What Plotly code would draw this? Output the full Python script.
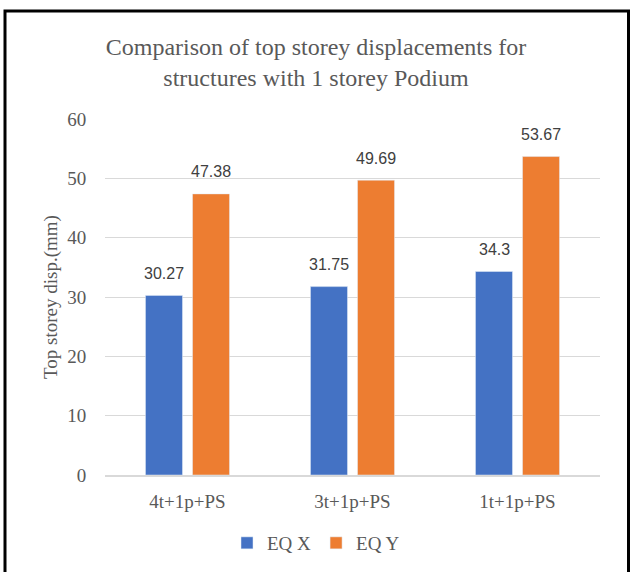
import plotly.graph_objects as go

categories = ["4t+1p+PS", "3t+1p+PS", "1t+1p+PS"]
eq_x = [30.27, 31.75, 34.3]
eq_y = [47.38, 49.69, 53.67]
series_names = ["EQ X", "EQ Y"]
tick_vals = [0, 10, 20, 30, 40, 50, 60]

BLUE = "#4472C4"
ORANGE = "#ED7D31"
TXT = "#595959"
SERIF = "Liberation Serif, Times New Roman, serif"

W, H = 632, 572
ML, MR, MT, MB = 105, 32, 119, 97
PW, PH = W - ML - MR, H - MT - MB

fig = go.Figure()
fig.add_bar(x=categories, y=eq_x, name=series_names[0], marker_color=BLUE)
fig.add_bar(x=categories, y=eq_y, name=series_names[1], marker_color=ORANGE)

# data labels
for vals, xs in ((eq_x, -23.5), (eq_y, 23.5)):
    for c, v in zip(categories, vals):
        fig.add_annotation(x=c, y=v, text=f"{v:g}", showarrow=False, xshift=xs, yshift=22,
                           yanchor="middle", font=dict(family="Liberation Sans, Arial", size=16, color="#404040"))

def px2x(px):
    return (px - ML) / PW

def px2y(py):
    return (H - MB - py) / PH

fig.add_shape(type="rect", xref="paper", yref="paper",
              x0=px2x(5), x1=px2x(628.5), y0=px2y(580), y1=px2y(11),
              line=dict(color="black", width=3), fillcolor="rgba(0,0,0,0)", layer="above")

fig.update_layout(
    width=W, height=H,
    margin=dict(l=ML, r=MR, t=MT, b=MB),
    paper_bgcolor="white", plot_bgcolor="white",
    barmode="group", bargap=0.43, bargroupgap=0.213,
    title=dict(text="Comparison of top storey displacements for<br>structures with 1 storey Podium",
               x=0.5, xanchor="center", xref="container", y=1 - 55 / H, yanchor="middle", yref="container",
               font=dict(family=SERIF, size=24, color=TXT)),
    xaxis=dict(showgrid=False, showline=True, linecolor="#D9D9D9", linewidth=1.5,
               tickfont=dict(family=SERIF, size=19, color=TXT), ticks="outside", ticklen=8, tickcolor="rgba(0,0,0,0)"),
    yaxis=dict(range=[0, 60], tickvals=tick_vals, showgrid=True, gridcolor="#D9D9D9", gridwidth=1,
               zeroline=False, showline=False,
               tickfont=dict(family=SERIF, size=19, color=TXT), ticks="outside", ticklen=14,
               tickcolor="rgba(0,0,0,0)",
               title=dict(text="Top storey disp.(mm)", font=dict(family=SERIF, size=19, color=TXT), standoff=4)),
    legend=dict(orientation="h", x=0.5, xref="container", xanchor="center", y=1 - 543 / H, yref="container",
                yanchor="middle", font=dict(family=SERIF, size=19, color=TXT), itemwidth=30,
                traceorder="normal"),
    showlegend=True,
)

fig.write_html("out.html", config={"displayModeBar": False},
               post_script="document.body.style.margin='0';document.body.style.overflow='hidden';")
